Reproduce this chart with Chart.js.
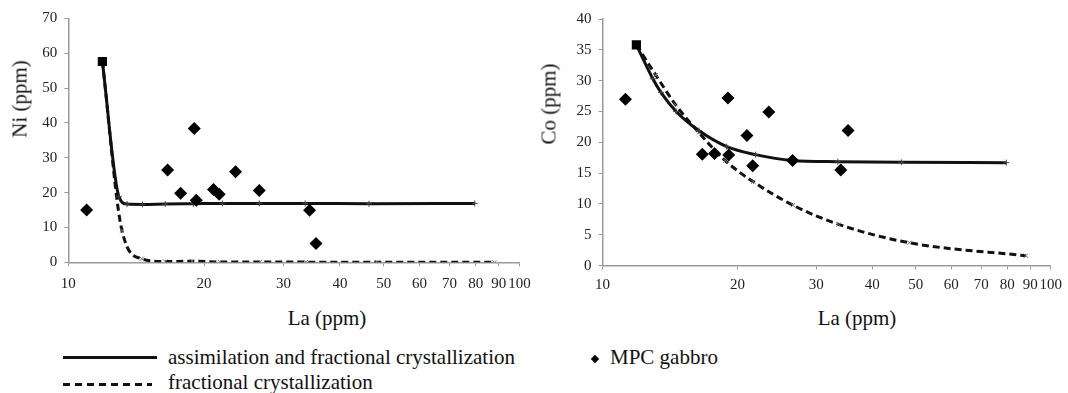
<!DOCTYPE html>
<html>
<head>
<meta charset="utf-8">
<script src="https://cdn.jsdelivr.net/npm/chart.js@4.4.1/dist/chart.umd.min.js"></script>
<style>
  html, body { margin: 0; padding: 0; background: #fff; }
  body { width: 1068px; height: 393px; position: relative; overflow: hidden; font-family: "Liberation Serif", "DejaVu Serif", serif; color: #111; }
  canvas { position: absolute; top: 0; }
  .t { position: absolute; white-space: nowrap; font-size: 21px; line-height: 21px; }
  .ytitle { transform: translate(-50%, -50%) rotate(-90deg); }
  .xtitle { transform: translate(-50%, -50%); }
</style>
</head>
<body>
<canvas id="ni" width="540" height="300" style="left:0px;width:540px;height:300px"></canvas>
<canvas id="co" width="538" height="300" style="left:530px;width:538px;height:300px"></canvas>

<div class="t ytitle" style="left:20px;top:99px">Ni (ppm)</div>
<div class="t ytitle" style="left:549px;top:104px">Co (ppm)</div>
<div class="t xtitle" style="left:327px;top:318px">La (ppm)</div>
<div class="t xtitle" style="left:857px;top:318px">La (ppm)</div>

<div style="position:absolute;left:63px;top:356px;width:94px;height:3px;background:#111"></div>
<div style="position:absolute;left:63px;top:383px;width:89px;height:3px;background:repeating-linear-gradient(to right,#111 0 7px,transparent 7px 12px)"></div>
<div class="t" style="left:168px;top:347px">assimilation and fractional crystallization</div>
<div class="t" style="left:168px;top:372px">fractional crystallization</div>
<div style="position:absolute;left:592px;top:356px;width:6px;height:6px;background:#000;transform:rotate(45deg)"></div>
<div class="t" style="left:610px;top:347px">MPC gabbro</div>

<script>
// ---- data ----
const xTicks = [10, 20, 30, 40, 50, 60, 70, 80, 90, 100];
const niTicks = [0, 10, 20, 30, 40, 50, 60, 70];
const coTicks = [0, 5, 10, 15, 20, 25, 30, 35, 40];

// parental magma (starting composition)
const startLa = [11.9];
const niStart = [57.6];
const coStart = [35.8];

// assimilation and fractional crystallization model
const afcLa = [11.9, 12.95, 13.5, 14.6, 16.4, 18.93, 21.95, 26.5, 33.5, 46.4, 79.6];
const niAfc = [57.6, 18.8, 16.7, 16.6, 16.7, 16.8, 16.9, 16.9, 16.9, 16.8, 16.9];
const coAfc = [35.8, 30.3, 28.1, 25.0, 21.9, 19.3, 18.0, 17.05, 16.85, 16.75, 16.7];

// fractional crystallization model
const fcLa = [11.9, 13.15, 14.55, 16.4, 18.8, 21.7, 26.6, 33.6, 48.4, 88];
const niFc = [57.6, 9.1, 1.0, 0.2, 0.3, 0.1, 0.1, 0.05, 0.0, 0.0];
const coFc = [35.8, 30.9, 26.1, 21.6, 17.0, 13.6, 9.8, 6.7, 3.7, 1.6];

// MPC gabbro samples
const niGabbroLa = [10.98, 16.6, 17.74, 19.02, 19.21, 20.98, 21.6, 23.48, 26.5, 34.25, 35.4];
const niGabbro = [15.0, 26.5, 19.8, 38.4, 17.8, 20.9, 19.5, 26.0, 20.6, 14.9, 5.4];
const coGabbroLa = [11.25, 16.7, 17.78, 19.05, 19.12, 21.0, 21.63, 23.5, 26.55, 34.0, 35.3];
const coGabbro = [27.0, 18.06, 18.2, 27.2, 17.95, 21.1, 16.2, 24.9, 17.05, 15.5, 21.9];

// ---- helpers ----
const pts = (xs, ys) => xs.map((x, i) => ({ x: x, y: ys[i] }));
const FONT = '"Liberation Serif", "DejaVu Serif", serif';
const AXIS = '#9a9a9a';

function datasets(gLa, g, sLa, s, aLa, a, fLa, f) {
  return [
    { label: 'MPC gabbro', data: pts(gLa, g), pointStyle: 'rectRot', pointRadius: 6.5,
      pointBackgroundColor: '#000', pointBorderColor: '#000', pointBorderWidth: 0, showLine: false },
    { label: 'start', data: pts(sLa, s), pointStyle: 'rect', pointRadius: 6.5,
      pointBackgroundColor: '#000', pointBorderColor: '#000', pointBorderWidth: 0, showLine: false },
    { label: 'assimilation and fractional crystallization', data: pts(aLa, a), showLine: true,
      borderColor: '#111', borderWidth: 3, cubicInterpolationMode: 'monotone',
      pointStyle: 'cross', pointRadius: 3, pointBorderColor: '#444', pointBorderWidth: 1 },
    { label: 'fractional crystallization', data: pts(fLa, f), showLine: true,
      borderColor: '#111', borderWidth: 3, borderDash: [7, 4], cubicInterpolationMode: 'monotone',
      pointStyle: 'crossRot', pointRadius: 3, pointBorderColor: '#777', pointBorderWidth: 1 }
  ];
}

function makeChart(id, ds, yTicks, yMax, geom) {
  return new Chart(document.getElementById(id), {
    type: 'scatter',
    data: { datasets: ds },
    options: {
      responsive: false,
      animation: false,
      devicePixelRatio: 1,
      layout: { padding: { left: 0, top: geom.top, right: geom.right, bottom: 0 } },
      plugins: { legend: { display: false }, tooltip: { enabled: false } },
      scales: {
        x: {
          type: 'logarithmic', min: 10, max: 100,
          afterBuildTicks: s => { s.ticks = xTicks.map(v => ({ value: v })); },
          afterFit: s => { s.height = geom.xH; },
          grid: { display: true, drawOnChartArea: false, drawTicks: true, tickLength: 4, color: AXIS },
          border: { display: true, color: AXIS, width: 1.5 },
          ticks: { autoSkip: false, maxRotation: 0, padding: geom.xPad, color: '#222',
                   font: { family: FONT, size: 15 }, callback: v => String(v) }
        },
        y: {
          min: 0, max: yMax,
          afterBuildTicks: s => { s.ticks = yTicks.map(v => ({ value: v })); },
          afterFit: s => { s.width = geom.yW; },
          grid: { display: true, drawOnChartArea: false, drawTicks: true, tickLength: 4, color: AXIS },
          border: { display: true, color: AXIS, width: 1.5 },
          ticks: { padding: 7, color: '#222', font: { family: FONT, size: 15 }, callback: v => String(v) }
        }
      }
    }
  });
}

function draw() {
  makeChart('ni', datasets(niGabbroLa, niGabbro, startLa, niStart, afcLa, niAfc, fcLa, niFc),
            niTicks, 70, { top: 18.3, right: 20.5, xH: 37.7, yW: 68.3, xPad: 9 });
  makeChart('co', datasets(coGabbroLa, coGabbro, startLa, coStart, afcLa, coAfc, fcLa, coFc),
            coTicks, 40, { top: 19, right: 14, xH: 34.4, yW: 72.5, xPad: 6 });
}

if (document.fonts && document.fonts.load) {
  document.fonts.load('15px "Liberation Serif"').then(draw, draw);
} else {
  draw();
}
</script>
</body>
</html>
